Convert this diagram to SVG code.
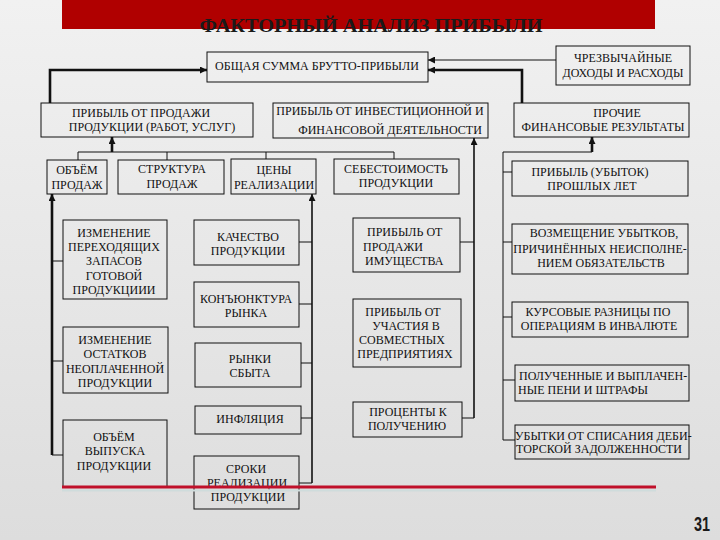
<svg xmlns="http://www.w3.org/2000/svg" width="720" height="540" viewBox="0 0 720 540">
<defs>
<linearGradient id="bg" x1="0" y1="0" x2="0" y2="1">
<stop offset="0" stop-color="#f1f1f1"/>
<stop offset="1" stop-color="#dddddd"/>
</linearGradient>
<marker id="ah" viewBox="0 0 10 10" refX="10" refY="5" markerWidth="7" markerHeight="7" markerUnits="userSpaceOnUse" orient="auto">
<path d="M0,0 L10,5 L0,10 z" fill="#111"/>
</marker>
</defs>
<style>
.box{fill:none;stroke:#111;stroke-width:1}
.t{font-family:"Liberation Serif","Times New Roman",serif;font-size:12px;fill:#111;text-anchor:middle}
.s{text-anchor:start}
.thin{fill:none;stroke:#111;stroke-width:1}
.mid{fill:none;stroke:#111;stroke-width:1.6}
.thick{fill:none;stroke:#111;stroke-width:2.6}
</style>
<rect width="720" height="540" fill="url(#bg)"/>
<rect x="62" y="0" width="593" height="29" fill="#b00000"/>
<text x="371" y="32" font-family="Liberation Serif, serif" font-size="19" font-weight="bold" fill="#1a1a1a" text-anchor="middle" textLength="343" lengthAdjust="spacingAndGlyphs">ФАКТОРНЫЙ АНАЛИЗ ПРИБЫЛИ</text>

<g id="connectors">
<path class="thin" d="M556,60 H428" marker-end="url(#ah)"/>
<path class="thick" d="M522,103 V70 H428" marker-end="url(#ah)"/>
<path class="thick" d="M50,103 V70 H207" marker-end="url(#ah)"/>
<path class="thin" d="M78,160 V152 H394 V159 M167,152 V160 M266,152 V159"/>
<path class="thick" d="M112,152 V137" marker-end="url(#ah)"/>
<path class="thick" d="M52,455 V194" marker-end="url(#ah)"/>
<path class="thin" d="M52,261 H63 M52,361 H63 M52,455 H63"/>
<path class="mid" d="M312,483 V194" marker-end="url(#ah)"/>
<path class="thin" d="M299,242 H312 M299,304 H312 M301,363 H312 M301,418 H312 M299,483 H312"/>
<path class="mid" d="M474,418 V138" marker-end="url(#ah)"/>
<path class="thin" d="M460,242 H474 M462,418 H474"/>
<path class="thin" d="M503,440 V152 H592"/>
<path class="thick" d="M592,152 V137" marker-end="url(#ah)"/>
<path class="thin" d="M503,172 H512 M503,242 H512 M503,317 H512 M503,380 H515 M503,440 H515"/>
</g>

<g id="n_total"><rect class="box" x="207" y="52" width="221" height="30"/><text class="t" x="317" y="70">ОБЩАЯ СУММА БРУТТО-ПРИБЫЛИ</text></g>
<g id="n_extra"><rect class="box" x="556" y="46" width="134" height="39"/><text class="t" x="623" y="62">ЧРЕЗВЫЧАЙНЫЕ</text><text class="t" x="623" y="77">ДОХОДЫ И РАСХОДЫ</text></g>
<g id="n_sales"><rect class="box" x="41" y="103" width="212" height="34"/><text class="t" x="141" y="117">ПРИБЫЛЬ ОТ ПРОДАЖИ</text><text class="t" x="152" y="131">ПРОДУКЦИИ  (РАБОТ, УСЛУГ)</text></g>
<g id="n_invest"><rect class="box" x="273" y="103" width="215" height="35"/><text class="t" x="380" y="115">ПРИБЫЛЬ ОТ ИНВЕСТИЦИОННОЙ И</text><text class="t" x="390" y="134">ФИНАНСОВОЙ ДЕЯТЕЛЬНОСТИ</text></g>
<g id="n_other"><rect class="box" x="514" y="103" width="175" height="34"/><text class="t" x="617" y="117">ПРОЧИЕ</text><text class="t" x="603" y="131">ФИНАНСОВЫЕ РЕЗУЛЬТАТЫ</text></g>
<g id="n_vol"><rect class="box" x="47" y="160" width="60" height="34"/><text class="t" x="77" y="174">ОБЪЁМ</text><text class="t" x="77" y="189">ПРОДАЖ</text></g>
<g id="n_struct"><rect class="box" x="118" y="160" width="106" height="34"/><text class="t" x="172" y="173">СТРУКТУРА</text><text class="t" x="172" y="188">ПРОДАЖ</text></g>
<g id="n_price"><rect class="box" x="231" y="159" width="85" height="35"/><text class="t" x="274" y="174">ЦЕНЫ</text><text class="t" x="274" y="189">РЕАЛИЗАЦИИ</text></g>
<g id="n_cost"><rect class="box" x="334" y="159" width="125" height="35"/><text class="t" x="396" y="173">СЕБЕСТОИМОСТЬ</text><text class="t" x="396" y="187">ПРОДУКЦИИ</text></g>
<g id="n_prev"><rect class="box" x="512" y="161" width="176" height="35"/><text class="t" x="590" y="176">ПРИБЫЛЬ (УБЫТОК)</text><text class="t" x="592" y="190">ПРОШЛЫХ  ЛЕТ</text></g>
<g id="n_stock"><rect class="box" x="63" y="220" width="104" height="79"/><text class="t" x="114" y="237">ИЗМЕНЕНИЕ</text><text class="t" x="114" y="251">ПЕРЕХОДЯЩИХ</text><text class="t" x="114" y="265">ЗАПАСОВ</text><text class="t" x="114" y="280">ГОТОВОЙ</text><text class="t" x="114" y="294">ПРОДУКЦИИИ</text></g>
<g id="n_unpaid"><rect class="box" x="63" y="327" width="105" height="66"/><text class="t" x="115" y="344">ИЗМЕНЕНИЕ</text><text class="t" x="115" y="358">ОСТАТКОВ</text><text class="t" x="115" y="373">НЕОПЛАЧЕННОЙ</text><text class="t" x="115" y="387">ПРОДУКЦИИ</text></g>
<g id="n_output"><rect class="box" x="63" y="420" width="104" height="67"/><text class="t" x="114" y="441">ОБЪЁМ</text><text class="t" x="115" y="455">ВЫПУСКА</text><text class="t" x="114" y="470">ПРОДУКЦИИ</text></g>
<g id="n_quality"><rect class="box" x="194" y="220" width="105" height="45"/><text class="t" x="248" y="241">КАЧЕСТВО</text><text class="t" x="248" y="255">ПРОДУКЦИИ</text></g>
<g id="n_market"><rect class="box" x="194" y="282" width="105" height="45"/><text class="t" x="246" y="303">КОНЪЮНКТУРА</text><text class="t" x="246" y="317">РЫНКА</text></g>
<g id="n_markets"><rect class="box" x="195" y="343" width="106" height="44"/><text class="t" x="250" y="363">РЫНКИ</text><text class="t" x="250" y="377">СБЫТА</text></g>
<g id="n_infl"><rect class="box" x="195" y="406" width="106" height="28"/><text class="t" x="250" y="423">ИНФЛЯЦИЯ</text></g>
<g id="n_terms"><rect class="box" x="194" y="456" width="105" height="53"/><text class="t" x="246" y="473">СРОКИ</text><text class="t" x="247" y="487">РЕАЛИЗАЦИИ</text><text class="t" x="248" y="501">ПРОДУКЦИИ</text></g>
<g id="n_prop"><rect class="box" x="353" y="218" width="107" height="54"/><text class="t s" x="367" y="236">ПРИБЫЛЬ ОТ</text><text class="t s" x="363" y="251">ПРОДАЖИ</text><text class="t s" x="365" y="265">ИМУЩЕСТВА</text></g>
<g id="n_joint"><rect class="box" x="353" y="299" width="108" height="68"/><text class="t" x="403" y="316">ПРИБЫЛЬ ОТ</text><text class="t" x="406" y="330">УЧАСТИЯ В</text><text class="t" x="402" y="344">СОВМЕСТНЫХ</text><text class="t" x="405" y="358">ПРЕДПРИЯТИЯХ</text></g>
<g id="n_interest"><rect class="box" x="353" y="402" width="109" height="35"/><text class="t" x="408" y="416">ПРОЦЕНТЫ К</text><text class="t" x="407" y="430">ПОЛУЧЕНИЮ</text></g>
<g id="n_comp"><rect class="box" x="512" y="224" width="176" height="50"/><text class="t" x="604" y="237">ВОЗМЕЩЕНИЕ УБЫТКОВ,</text><text class="t" x="600" y="253">ПРИЧИНЁННЫХ НЕИСПОЛНЕ-</text><text class="t" x="601" y="267">НИЕМ ОБЯЗАТЕЛЬСТВ</text></g>
<g id="n_fx"><rect class="box" x="512" y="302" width="176" height="35"/><text class="t" x="598" y="316">КУРСОВЫЕ РАЗНИЦЫ ПО</text><text class="t" x="599" y="330">ОПЕРАЦИЯМ В ИНВАЛЮТЕ</text></g>
<g id="n_fines"><rect class="box" x="515" y="365" width="174" height="36"/><text class="t s" x="519" y="380">ПОЛУЧЕННЫЕ И ВЫПЛАЧЕН-</text><text class="t s" x="518" y="394">НЫЕ ПЕНИ И ШТРАФЫ</text></g>
<g id="n_debt"><rect class="box" x="515" y="425" width="174" height="34"/><text class="t s" x="515" y="440">УБЫТКИ ОТ СПИСАНИЯ  ДЕБИ-</text><text class="t s" x="516" y="453">ТОРСКОЙ ЗАДОЛЖЕННОСТИ</text></g>

<path d="M62,490.5 H656" stroke="#cfdcdc" stroke-width="2" fill="none"/>
<path d="M62,487 H656" stroke="#c0102a" stroke-width="3" fill="none"/>
<text x="702" y="531" font-family="Liberation Sans, sans-serif" font-size="21" font-weight="bold" fill="#1a1a1a" text-anchor="middle" textLength="16" lengthAdjust="spacingAndGlyphs">31</text>
</svg>
